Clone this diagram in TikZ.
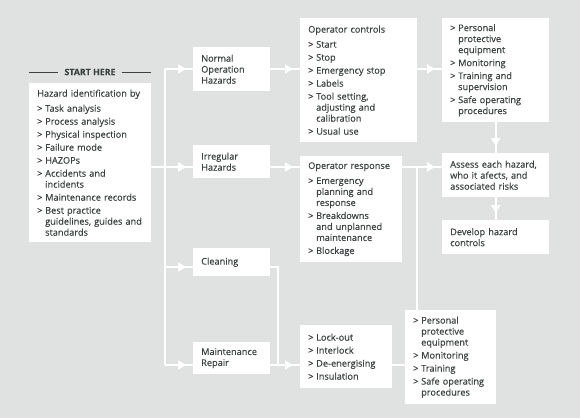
\documentclass[tikz,border=0pt]{standalone}
\usepackage{fontspec}
\setmainfont{Open Sans}[FakeBold=0.3]
\usetikzlibrary{arrows.meta,decorations.markings}
\definecolor{bggray}{HTML}{DFE2E1}
\definecolor{ink}{HTML}{3C4242}
\newcommand\itm{\makebox[8pt][l]{>}}
\newcommand\ind{\hspace*{8pt}}
\begin{document}
\begin{tikzpicture}[x=1pt,y=-1pt,
  every node/.style={font=\fontsize{9.2}{11}\selectfont,text=ink},
  box/.style={fill=white,anchor=north west,align=left,inner xsep=8pt,inner ysep=0pt},
  wire/.style={white,line width=2pt},
  tip/.style={postaction={decorate},decoration={markings,mark=at position -7pt with {\arrow{Triangle[length=8pt,width=9pt]}}}}]
  \fill[bggray] (0,0) rectangle (580,418);
  \useasboundingbox (0,0) rectangle (580,418);
  % levels of the horizontal connectors
  \coordinate (lvA) at (0,69); \coordinate (lvB) at (0,167);
  \coordinate (lvC) at (0,267); \coordinate (lvD) at (0,365);
  \coordinate (trk) at (165,0); \coordinate (jnl) at (278,0); \coordinate (jnr) at (417,0);
  % start
  \node[box,text width=106pt,minimum height=159pt] (haz) at (29,83) {Hazard identification by\\[4pt]
    \itm Task analysis\\[2pt] \itm Process analysis\\[2pt] \itm Physical inspection\\[2pt]
    \itm Failure mode\\[2pt] \itm HAZOPs\\[2pt] \itm Accidents and\\ \ind incidents\\[2pt]
    \itm Maintenance records\\[2pt] \itm Best practice\\ \ind guidelines, guides and\\ \ind standards};
  \node[font=\fontsize{8.8}{11}\selectfont\bfseries,inner xsep=6pt] (st) at (90,72) {START HERE};
  \draw[ink,line width=0.8pt] (haz.north west |- st.west) -- (st.west) (st.east) -- (haz.north east |- st.east);
  % hazard kinds
  \node[box,text width=61pt,minimum height=44pt] (nor) at (193,47) {Normal\\ Operation\\ Hazards};
  \node[box,text width=61pt,minimum height=33pt] (irr) at (193,145) {Irregular\\ Hazards};
  \node[box,text width=61pt,minimum height=28pt] (cln) at (193,248) {Cleaning};
  \node[box,text width=61pt,minimum height=32pt] (mnt) at (193,342) {Maintenance\\ Repair};
  % controls
  \node[box,text width=101pt,minimum height=124pt] (opc) at (300,18) {Operator controls\\[4pt]
    \itm Start\\[2pt] \itm Stop\\[2pt] \itm Emergency stop\\[2pt] \itm Labels\\[2pt]
    \itm Tool setting,\\ \ind adjusting and\\ \ind calibration\\[2pt] \itm Usual use};
  \node[box,text width=86pt,minimum height=106pt] (opr) at (300,156) {Operator response\\[4pt]
    \itm Emergency\\ \ind planning and\\ \ind response\\[2pt] \itm Breakdowns\\ \ind and unplanned\\ \ind maintenance\\[2pt]
    \itm Blockage};
  \node[box,text width=76pt,minimum height=63pt] (lok) at (300,325) {\itm Lock-out\\[2pt] \itm Interlock\\[2pt]
    \itm De-energising\\[2pt] \itm Insulation};
  \node[box,text width=91pt,minimum height=104pt] (ppa) at (442,18) {\itm Personal\\ \ind protective\\ \ind equipment\\[2pt]
    \itm Monitoring\\[2pt] \itm Training and\\ \ind supervision\\[2pt] \itm Safe operating\\ \ind procedures};
  \node[box,text width=75pt,minimum height=94pt] (ppb) at (405,310) {\itm Personal\\ \ind protective\\ \ind equipment\\[2pt]
    \itm Monitoring\\[2pt] \itm Training\\[2pt] \itm Safe operating\\ \ind procedures};
  \node[box,text width=91pt,minimum height=44pt] (ass) at (442,153) {Assess each hazard,\\ who it afects, and\\ associated risks};
  \node[box,text width=91pt,minimum height=34pt] (dev) at (442,220) {Develop hazard\\ controls};
  % connectors
  \draw[wire] (trk |- lvA) -- (trk |- lvD);
  \draw[wire,tip] (trk |- lvA) -- (nor.west |- lvA);
  \draw[wire,tip] (haz.east |- lvB) -- (irr.west |- lvB);
  \draw[wire,tip] (trk |- lvC) -- (cln.west |- lvC);
  \draw[wire,tip] (trk |- lvD) -- (mnt.west |- lvD);
  \draw[wire,tip] (nor.east |- lvA) -- (opc.west |- lvA);
  \draw[wire,tip] (irr.east |- lvB) -- (opr.west |- lvB);
  \draw[wire,tip] (opc.east |- lvA) -- (ppa.west |- lvA);
  \draw[wire,tip] (opr.east |- lvB) -- (ass.west |- lvB);
  \draw[wire,tip] (ppa.south) -- (ass.north);
  \draw[wire,tip] (ass.south) -- (dev.north);
  \draw[wire] (cln.east |- lvC) -| (jnl |- lvD);
  \draw[wire,tip] (mnt.east |- lvD) -- (lok.west |- lvD);
  \draw[wire] (lok.east |- lvD) -- (ppb.west |- lvD);
  \draw[wire] (jnr |- lvB) -- (jnr |- ppb.north);
\end{tikzpicture}
\end{document}
